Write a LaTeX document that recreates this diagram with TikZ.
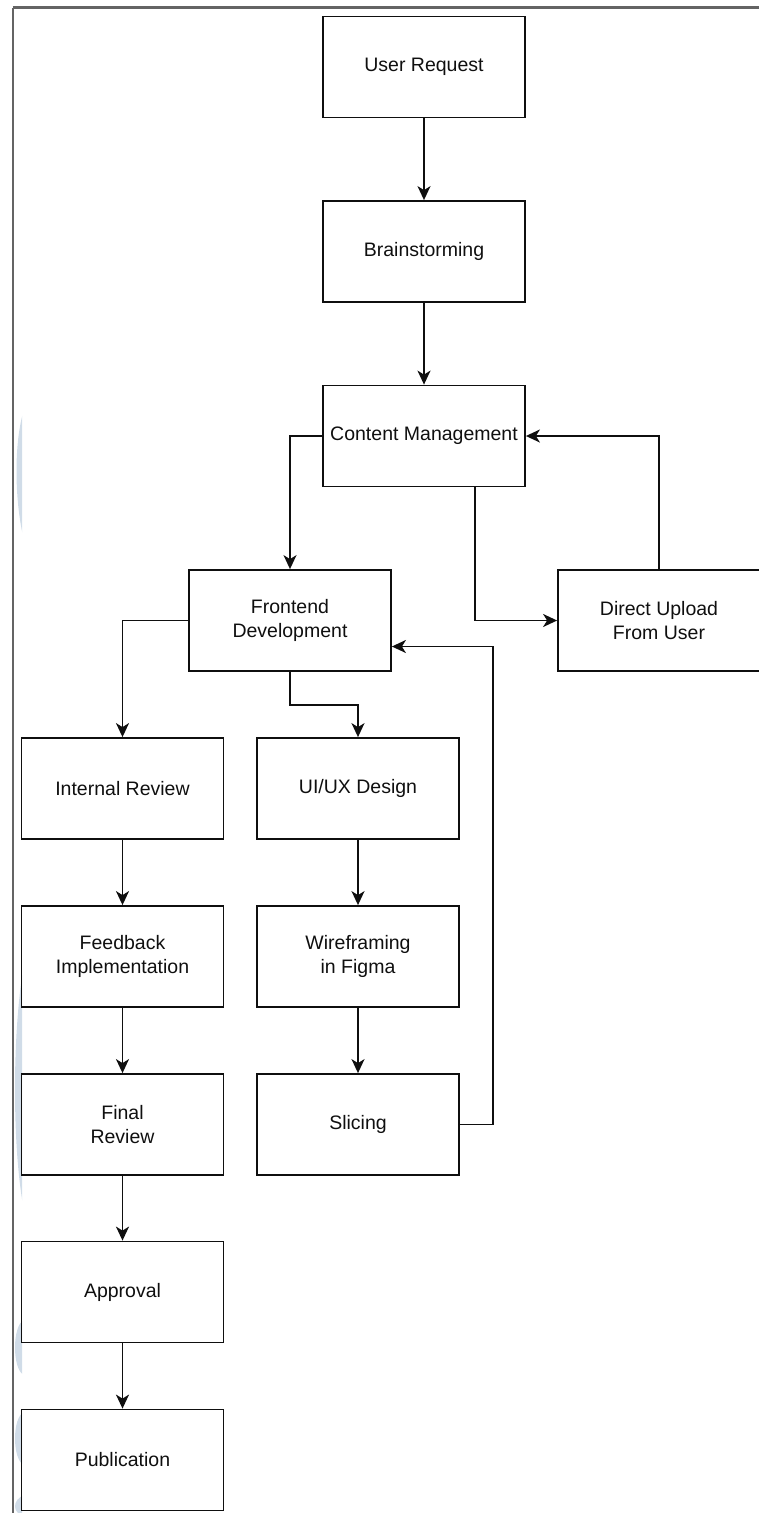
\documentclass[tikz,border=0pt]{standalone}
\usepackage{fontspec}
\setmainfont{Liberation Sans}
\usetikzlibrary{arrows.meta,calc}
\definecolor{wm}{RGB}{208,220,232}
\definecolor{frame}{RGB}{100,100,100}
\definecolor{ink}{RGB}{15,15,15}
\tikzset{
  box/.style={draw=ink, line width=1.8pt, minimum width=202pt, minimum height=101pt,
    inner sep=0pt, align=center, font=\fontsize{19.5}{24}\selectfont, text=ink},
  arr/.style={draw=ink, line width=1.8pt, -{Stealth[length=14pt,width=13pt,inset=4pt]}},
  wmark/.style={fill=wm, draw=none}
}
\begin{document}
\begin{tikzpicture}[x=1pt,y=-1pt]
\useasboundingbox (0,0) rectangle (758,1513);
% faint watermark marks in the left margin
\begin{scope}
\clip (13.5,0) rectangle (22,1513);
\path[wmark] (24,410) .. controls (14,440) and (14,500) .. (24,540) -- cycle;
\path[wmark] (24,965) .. controls (12,1030) and (12,1150) .. (24,1210) -- cycle;
\path[wmark] (24,1320) .. controls (12,1325) and (12,1370) .. (24,1375) -- cycle;
\path[wmark] (24,1412) .. controls (12,1417) and (12,1460) .. (24,1465) -- cycle;
\path[wmark] (24,1495) .. controls (12,1500) and (12,1513) .. (24,1516) -- cycle;
\end{scope}
% page frame
\draw[frame, line width=2.4pt] (12.7,7.5) -- (760,7.5);
\draw[frame, line width=1.6pt] (12.7,7.5) -- (12.7,1515);
% nodes
\node[box] (ur) at (424,67) {User Request};
\node[box] (bs) at (424,251.5) {Brainstorming};
\node[box] (cm) at (424,436) {Content Management};
\node[box] (du) at (659,620.5) {Direct Upload\\From User};
\node[box] (fd) at (290,620.5) {Frontend\\Development};
\node[box] (ir) at (122.5,788.5) {Internal Review};
\node[box] (ux) at (358,788.5) {UI/UX Design};
\node[box] (fb) at (122.5,956.5) {Feedback\\Implementation};
\node[box] (wf) at (358,956.5) {Wireframing\\in Figma};
\node[box] (fr) at (122.5,1124.5) {Final\\Review};
\node[box] (sl) at (358,1124.5) {Slicing};
\node[box] (ap) at (122.5,1292) {Approval};
\node[box] (pu) at (122.5,1460) {Publication};
% connectors
\draw[arr] (ur) -- (bs);
\draw[arr] (bs) -- (cm);
\draw[arr] (cm.west) -| (fd.north);
\draw[arr] ($(cm.south)+(51,0)$) |- (du.west);
\draw[arr] (du.north) |- (cm.east);
\draw[arr] (fd.west) -| (ir.north);
\draw[arr] (fd.south) -- ++(0,33) -| (ux.north);
\draw[arr] (sl.east) -- ++(33,0) |- ($(fd.east)+(0,26)$);
\draw[arr] (ir) -- (fb);
\draw[arr] (fb) -- (fr);
\draw[arr] (fr) -- (ap);
\draw[arr] (ap) -- (pu);
\draw[arr] (ux) -- (wf);
\draw[arr] (wf) -- (sl);
\end{tikzpicture}
\end{document}
